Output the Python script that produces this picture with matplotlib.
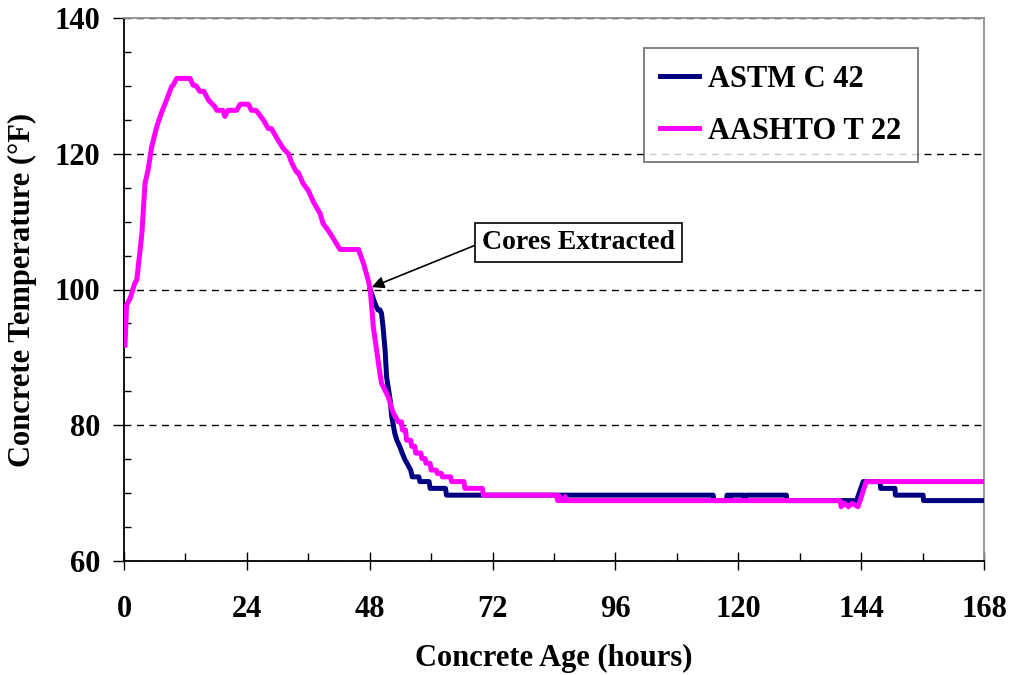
import numpy as np
import matplotlib
matplotlib.use("Agg")
import matplotlib.pyplot as plt
from matplotlib.ticker import MultipleLocator

# --------------------------------
# Data: (hours, deg F)
# --------------------------------
aashto = [(0.2, 91.8), (0.5, 97.7), (1.2, 98.7), (2.1, 100.9), (2.5, 101.4), (3.5, 108.3),
          (4.1, 115.6), (4.7, 117.6), (5.4, 121.0), (6.4, 124.0), (7.3, 126.0), (8.3, 127.9),
          (9.3, 129.9), (9.6, 130.1), (10.3, 131.1), (12.9, 131.1), (13.5, 130.1), (14.1, 130.0),
          (14.8, 129.2), (15.6, 129.2), (16.5, 127.9), (17.8, 126.9), (18.1, 126.4), (19.3, 126.4),
          (19.7, 125.5), (20.3, 126.4), (22.0, 126.4), (22.7, 127.3), (24.3, 127.3), (24.9, 126.4),
          (25.8, 126.4), (27.2, 125.0), (28.2, 123.7), (28.8, 123.7), (30.1, 122.0), (31.1, 120.8),
          (32.1, 120.0), (32.8, 118.6), (33.7, 117.3), (34.0, 117.3), (35.0, 115.6), (36.0, 114.6),
          (37.0, 112.9), (38.3, 111.2), (38.9, 109.7), (39.9, 108.7), (40.9, 107.5), (42.2, 105.9),
          (45.8, 105.9), (46.8, 103.8), (47.7, 101.4), (48.1, 100.0), (48.7, 94.5), (50.0, 87.6),
          (50.3, 86.2), (51.6, 84.2), (52.6, 81.8), (53.6, 80.5), (54.2, 80.5), (54.4, 79.3),
          (55.0, 79.3), (55.2, 77.8), (56.0, 77.8), (56.2, 76.9), (56.8, 76.9), (57.0, 75.9),
          (58.0, 75.9), (58.2, 75.1), (58.8, 75.1), (59.0, 74.4), (59.8, 74.4), (60.0, 73.4),
          (61.0, 73.4), (61.2, 72.9), (62.0, 72.9), (62.2, 72.4), (63.8, 72.4), (64.0, 71.7),
          (66.4, 71.7), (66.6, 70.7), (70.0, 70.7), (70.2, 69.7), (84.5, 69.7), (84.7, 68.9),
          (85.0, 69.6), (85.3, 68.9), (86.0, 68.9), (86.2, 69.5), (86.4, 68.9), (139.9, 68.9),
          (140.1, 68.0), (140.8, 68.5), (141.5, 68.0), (142.2, 68.5), (143.4, 68.0), (145.0, 71.7),
          (168.0, 71.7)]

astm = [(48.1, 100.0), (49.0, 98.0), (49.6, 97.0), (50.0, 97.0), (50.3, 96.5), (50.6, 94.5),
        (51.0, 91.1), (51.3, 87.1), (52.0, 83.7), (52.3, 81.3), (52.9, 78.8), (53.3, 77.8),
        (53.9, 76.8), (54.4, 75.8), (54.9, 74.9), (55.5, 74.1), (56.0, 73.4), (56.3, 72.4),
        (57.6, 72.4), (57.8, 71.7), (59.6, 71.7), (59.8, 70.7), (62.8, 70.7), (63.0, 69.7),
        (115.1, 69.7), (115.2, 68.9), (117.7, 68.9), (117.8, 69.7), (118.2, 69.7), (118.3, 68.9),
        (118.6, 69.7), (121.0, 69.7), (121.2, 68.9), (121.5, 69.7), (129.4, 69.7), (129.5, 68.9),
        (143.1, 68.9), (144.4, 71.7), (147.7, 71.7), (147.8, 70.7), (150.6, 70.7), (150.7, 69.7),
        (156.1, 69.7), (156.2, 68.9), (168.0, 68.9)]

aashto_t, aashto_T = np.array(aashto).T
astm_t, astm_T = np.array(astm).T

plt.rcParams["font.family"] = ["Liberation Serif", "DejaVu Serif"]
plt.rcParams["font.weight"] = "bold"

fig = plt.figure(figsize=(10.14, 6.75), dpi=100)
ax = fig.add_axes([124 / 1014, 1 - 561 / 675, 860 / 1014, 543 / 675])

ax.plot(astm_t, astm_T, color="#000080", lw=3.6, label="ASTM C 42", zorder=3)
ax.plot(aashto_t, aashto_T, color="#FF00FF", lw=3.6, label="AASHTO T 22", zorder=4)

ax.set_xlim(0, 168)
ax.set_ylim(60, 140)
ax.xaxis.set_major_locator(MultipleLocator(24))
ax.xaxis.set_minor_locator(MultipleLocator(12))
ax.yaxis.set_major_locator(MultipleLocator(20))
ax.yaxis.set_minor_locator(MultipleLocator(5))

# dashed gridlines; the one at 140 sits over the grey top border
ax.yaxis.grid(True, which="major", color="black", lw=1.0, linestyle=(0, (5, 4)), zorder=2.6)

for side in ["left", "bottom"]:
    ax.spines[side].set_color("black")
    ax.spines[side].set_linewidth(1.3)
for side in ["top", "right"]:
    ax.spines[side].set_color("#909090")
    ax.spines[side].set_linewidth(1.3)

ax.tick_params(axis="x", which="major", direction="inout", length=13, width=1, pad=18, labelsize=22)
ax.tick_params(axis="x", which="minor", direction="in", length=6, width=1)
ax.tick_params(axis="y", which="major", direction="out", length=8, width=1, pad=9, labelsize=22)
ax.tick_params(axis="y", which="minor", direction="in", length=5, width=1)
for lab in ax.get_xticklabels() + ax.get_yticklabels():
    lab.set_fontweight("bold")

ax.set_xlabel("Concrete Age (hours)", fontsize=22, fontweight="bold", labelpad=14)
ax.set_ylabel("Concrete Temperature (°F)", fontsize=22, fontweight="bold", labelpad=13)

leg = ax.legend(loc="upper right", bbox_to_anchor=(0.923, 0.945), borderaxespad=0,
                fancybox=False, edgecolor="#555555", fontsize=22, handlelength=1.25,
                handletextpad=0.3, labelspacing=0.75, borderpad=0.55)
leg.get_frame().set_linewidth(1.3)
leg.set_zorder(7)
for t in leg.get_texts():
    t.set_fontweight("bold")

ax.annotate("Cores Extracted", xy=(48.4, 100.35), xytext=(88.7, 106.9),
            fontsize=20, fontweight="bold", ha="center", va="center",
            bbox=dict(boxstyle="square,pad=0.25", fc="white", ec="black", lw=1.2),
            arrowprops=dict(arrowstyle="-|>", color="black", lw=1.2,
                            mutation_scale=18, relpos=(0, 0.5), shrinkA=0, shrinkB=0),
            zorder=6)

fig.savefig("out.png", dpi=100)
